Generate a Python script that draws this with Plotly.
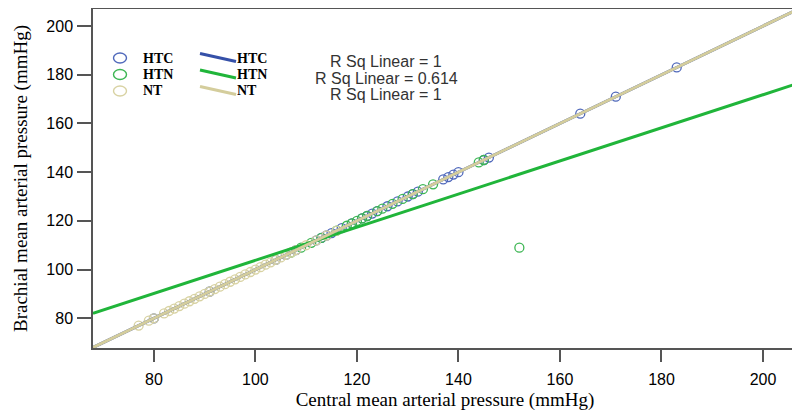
import plotly.graph_objects as go

# ---- data ----
htc_central  = [80, 91, 104, 106, 108, 112, 113, 114, 115, 117, 119, 121, 122, 123, 124, 126, 128, 130, 131, 132, 137, 138, 139, 140, 145, 146, 164, 171, 183]
htc_brachial = [80, 91, 104, 106, 108, 112, 113, 114, 115, 117, 119, 121, 122, 123, 124, 126, 128, 130, 131, 132, 137, 138, 139, 140, 145, 146, 164, 171, 183]

htn_central  = [107, 109, 111, 113, 116, 118, 119, 120, 121, 122, 124, 125, 127, 129, 131, 133, 135, 144, 145, 152]
htn_brachial = [107, 109, 111, 113, 116, 118, 119, 120, 121, 122, 124, 125, 127, 129, 131, 133, 135, 144, 145, 109]

nt_central  = [77, 79, 80, 82, 83, 84, 85, 86, 87, 88, 89, 90, 91, 92, 93, 94, 95, 96, 97, 98, 99, 100, 101, 102, 103, 104, 105, 106, 107, 108, 110, 112, 114, 116]
nt_brachial = [77, 79, 80, 82, 83, 84, 85, 86, 87, 88, 89, 90, 91, 92, 93, 94, 95, 96, 97, 98, 99, 100, 101, 102, 103, 104, 105, 106, 107, 108, 110, 112, 114, 116]

groups = ["HTC", "HTN", "NT"]
fit_slope = [1.0, 0.68, 1.0]
fit_intercept = [0.0, 35.8, 0.0]
r_sq_labels = ["R Sq Linear = 1", "R Sq Linear = 0.614", "R Sq Linear = 1"]

x_range = [68, 206.7]
y_range = [67.8, 207]
ticks = [80, 100, 120, 140, 160, 180, 200]

marker_colors = ["#4f68bb", "#3db653", "#d8d2a2"]
line_colors = ["#3550a8", "#20b53a", "#d4cd9c"]

# ---- layout geometry (figure pixels; page has an 8px body margin) ----
FIG_W, FIG_H = 792, 409
M_L, M_R, M_T, M_B = 85, 3, 1, 69
PW = FIG_W - M_L - M_R
PH = FIG_H - M_T - M_B


def px(xpage):
    return (xpage - 8 - M_L) / PW


def py(ypage):
    return (FIG_H - M_B - (ypage - 8)) / PH


fig = go.Figure()

data = [(htc_central, htc_brachial), (htn_central, htn_brachial), (nt_central, nt_brachial)]

for g, (cx, cy), mc in zip(groups, data, marker_colors):
    fig.add_trace(go.Scatter(
        x=cx, y=cy, mode="markers", name=g, showlegend=False,
        marker=dict(symbol="circle-open", size=9, color=mc, line=dict(width=1.3, color=mc)),
        hoverinfo="skip"))

for g, s, b, lc in zip(groups, fit_slope, fit_intercept, line_colors):
    xs = x_range
    ys = [s * v + b for v in xs]
    fig.add_trace(go.Scatter(
        x=xs, y=ys, mode="lines", name=g, showlegend=False,
        line=dict(color=lc, width=3), hoverinfo="skip"))

# ---- hand-built legend (two columns, as in SPSS output) ----
legend_font = dict(family="Liberation Serif", size=14, color="black", weight="bold")
row_y = [58, 74.5, 91]
for g, mc, lc, ry in zip(groups, marker_colors, line_colors, row_y):
    fig.add_shape(type="circle", xref="paper", yref="paper",
                  x0=px(113.5), x1=px(126.5), y0=py(ry + 5), y1=py(ry - 5),
                  line=dict(color=mc, width=1.4), fillcolor="rgba(0,0,0,0)")
    fig.add_annotation(text=g, x=px(141), y=py(ry), xref="paper", yref="paper",
                       xanchor="left", yanchor="middle", showarrow=False, font=legend_font)
    fig.add_shape(type="line", xref="paper", yref="paper",
                  x0=px(200), x1=px(236), y0=py(ry - 4.5), y1=py(ry + 3.5),
                  line=dict(color=lc, width=3))
    fig.add_annotation(text=g, x=px(235), y=py(ry), xref="paper", yref="paper",
                       xanchor="left", yanchor="middle", showarrow=False, font=legend_font)

ann_page_y = [62, 78, 94]
for txt, ay in zip(r_sq_labels, ann_page_y):
    fig.add_annotation(text=txt, x=px(386), y=py(ay), xref="paper", yref="paper",
                       xanchor="center", yanchor="middle", showarrow=False,
                       font=dict(family="Liberation Sans", size=16, color="#333"))

fig.update_layout(
    width=FIG_W, height=FIG_H,
    margin=dict(l=M_L, r=M_R, t=M_T, b=M_B),
    paper_bgcolor="white", plot_bgcolor="white",
    showlegend=False,
    xaxis=dict(range=x_range, tickvals=ticks, showgrid=False, zeroline=False, automargin=False,
               showline=True, linecolor="#555", linewidth=1.5, mirror=True,
               ticks="outside", ticklen=12, tickcolor="#555", tickwidth=1.5,
               tickfont=dict(family="Liberation Sans", size=16, color="black"),
               ticklabelstandoff=4,
               title=dict(text="Central mean arterial pressure (mmHg)",
                          font=dict(family="Liberation Serif", size=19, color="black"),
                          standoff=6)),
    yaxis=dict(range=y_range, tickvals=ticks, showgrid=False, zeroline=False, automargin=False,
               showline=True, linecolor="#555", linewidth=1.5, mirror=True,
               ticks="outside", ticklen=14, tickcolor="#555", tickwidth=1.5,
               tickfont=dict(family="Liberation Sans", size=16, color="black"),
               ticklabelstandoff=1,
               title=dict(text="Brachial mean arterial pressure (mmHg)",
                          font=dict(family="Liberation Serif", size=19, color="black"),
                          standoff=14)),
)

fig.write_html("out.html")
